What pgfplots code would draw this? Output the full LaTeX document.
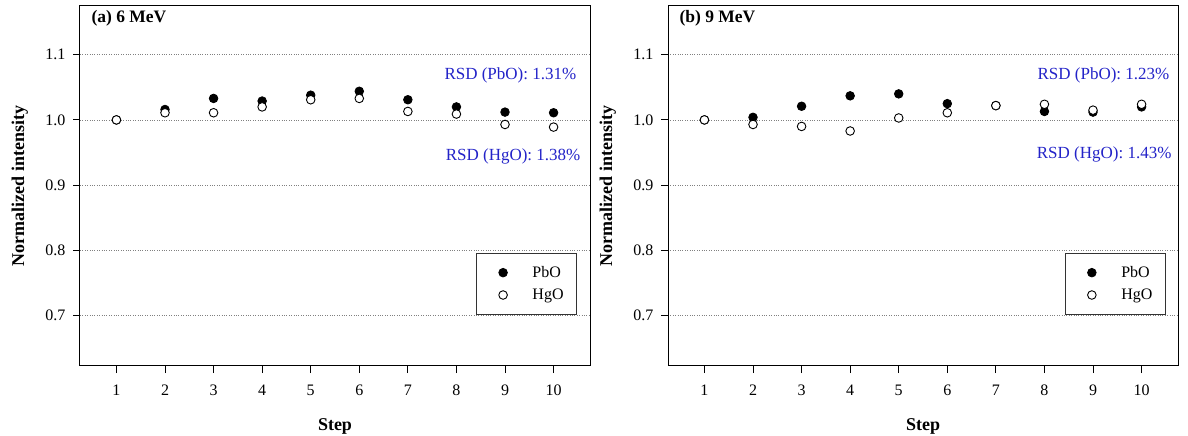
\documentclass[border=0pt]{standalone}
\usepackage{fontspec}
\setmainfont{Liberation Serif}
\usepackage{pgfplots}
\pgfplotsset{compat=1.18}
\definecolor{rsdblue}{RGB}{35,35,200}

\pgfplotsset{
  stepaxis/.style={
    scale only axis,
    width=510pt, height=360pt,
    anchor=south west,
    xmin=0.25, xmax=10.75,
    ymin=0.622, ymax=1.175,
    xtick={1,...,10},
    ytick={0.7,0.8,0.9,1.0,1.1},
    yticklabel style={/pgf/number format/fixed,/pgf/number format/fixed zerofill,/pgf/number format/precision=1, xshift=-4pt},
    xticklabel style={yshift=-8pt},
    /pgf/number format/assume math mode=true,
    tick label style={font=\fontsize{16}{18}\selectfont},
    tick align=outside,
    major tick length=7pt,
    xtick pos=bottom, ytick pos=left,
    axis line style={line width=1pt},
    every tick/.style={black, line width=1pt},
    ymajorgrids,
    grid style={dotted, gray, line width=0.8pt},
    xlabel={\textbf{Step}},
    ylabel={\textbf{Normalized intensity}},
    label style={font=\fontsize{18}{20}\selectfont},
    xlabel style={at={(axis description cs:0.5,-0.168)}, anchor=center},
    ylabel style={at={(axis description cs:-0.118,0.5)}, anchor=center, rotate=0},
    legend style={draw=black!80, line width=0.8pt, font=\fontsize{16}{18}\selectfont,
      at={(axis description cs:0.9745,0.314)}, anchor=north east,
      inner xsep=11pt, inner ysep=11pt, row sep=6pt,
      /tikz/every odd column/.append style={column sep=12pt}},
    legend cell align=left,
    legend image code/.code={
      \path (0pt,0pt) (30pt,0pt);
      \draw[#1] plot coordinates {(15pt,0pt)};
    },
  },
  pbo/.style={only marks, mark=*, mark size=4.3pt, mark options={fill=black, draw=black, line width=0.8pt}},
  hgo/.style={only marks, mark=*, mark size=4.3pt, mark options={fill=white, draw=black, line width=0.9pt}},
}

\begin{document}
\begin{tikzpicture}
\useasboundingbox (0,0) rectangle (1188pt,436pt);
\begin{axis}[stepaxis, at={(80pt,70pt)}]
  \addplot[pbo] coordinates {
    (1,1.000) (2,1.016) (3,1.033) (4,1.029) (5,1.038)
    (6,1.044) (7,1.031) (8,1.020) (9,1.012) (10,1.011)
  };
  \addlegendentry{PbO}
  \addplot[hgo] coordinates {
    (1,1.000) (2,1.011) (3,1.011) (4,1.020) (5,1.031)
    (6,1.033) (7,1.013) (8,1.009) (9,0.993) (10,0.989)
  };
  \addlegendentry{HgO}
  \node[anchor=west, font=\fontsize{17.5}{20}\selectfont\bfseries] at (axis description cs:0.0157,0.967) {(a) 6 MeV};
  \node[anchor=east, text=rsdblue, font=\fontsize{17}{20}\selectfont] at (axis description cs:0.98,0.806) {RSD (PbO): 1.31\%};
  \node[anchor=east, text=rsdblue, font=\fontsize{17}{20}\selectfont] at (axis description cs:0.988,0.581) {RSD (HgO): 1.38\%};
\end{axis}
\begin{axis}[stepaxis, at={(668pt,70pt)}, legend style={at={(axis description cs:0.976,0.314)}}]
  \addplot[pbo] coordinates {
    (1,1.000) (2,1.004) (3,1.021) (4,1.037) (5,1.040)
    (6,1.025) (7,1.022) (8,1.013) (9,1.012) (10,1.020)
  };
  \addlegendentry{PbO}
  \addplot[hgo] coordinates {
    (1,1.000) (2,0.993) (3,0.990) (4,0.983) (5,1.003)
    (6,1.011) (7,1.022) (8,1.024) (9,1.015) (10,1.024)
  };
  \addlegendentry{HgO}
  \node[anchor=west, font=\fontsize{17.5}{20}\selectfont\bfseries] at (axis description cs:0.0157,0.967) {(b) 9 MeV};
  \node[anchor=east, text=rsdblue, font=\fontsize{17}{20}\selectfont] at (axis description cs:0.990,0.806) {RSD (PbO): 1.23\%};
  \node[anchor=east, text=rsdblue, font=\fontsize{17}{20}\selectfont] at (axis description cs:0.994,0.589) {RSD (HgO): 1.43\%};
\end{axis}
\end{tikzpicture}
\end{document}
